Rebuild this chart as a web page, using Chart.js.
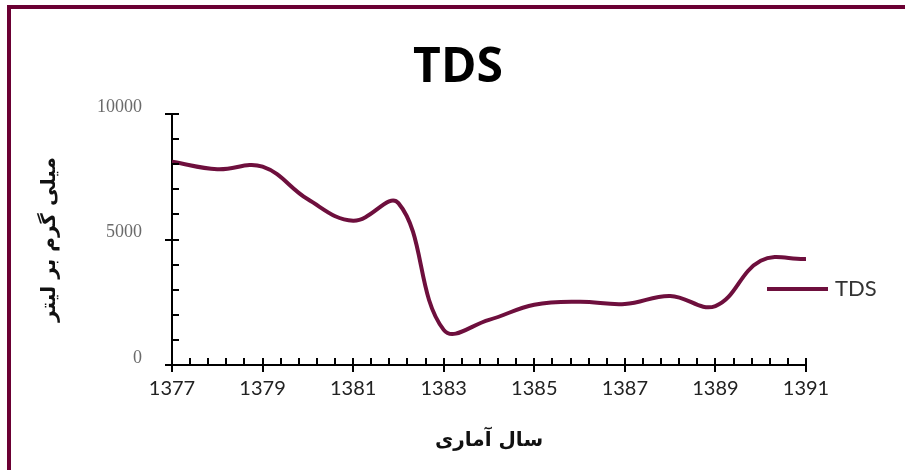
<!DOCTYPE html>
<html>
<head>
<meta charset="utf-8">
<script src="https://cdn.jsdelivr.net/npm/chart.js@4"></script>
<style>
    body { margin: 0; background: #fff; }
    #wrap { position: relative; width: 905px; height: 470px; }
    .borda { position: absolute; background: #6b0033; }
</style>
</head>
<body>
<div id="wrap">
    <canvas id="grafico" width="905" height="470"></canvas>
    <div class="borda" style="left:7px; top:5px; width:898px; height:4px;"></div>
    <div class="borda" style="left:7px; top:5px; width:4px; height:465px;"></div>
</div>
<script>
const anos = [1377, 1378, 1379, 1380, 1381, 1382, 1383, 1384, 1385, 1386, 1387, 1388, 1389, 1390, 1391];
const tds = [8100, 7800, 7900, 6600, 5750, 6450, 1400, 1800, 2400, 2520, 2430, 2750, 2350, 4150, 4220];
const rotulosX = [1377, 1379, 1381, 1383, 1385, 1387, 1389, 1391];
const rotulosY = [0, 5000, 10000];

const corLinha = '#6e0f3d';

// tracinhos dos eixos (maiores cruzam o eixo, menores so para dentro)
const marcasEixos = {
    id: 'marcasEixos',
    afterDraw(chart) {
        const { ctx, chartArea: a, scales: { x, y } } = chart;
        ctx.save();
        ctx.strokeStyle = '#000';
        ctx.lineWidth = 2;
        ctx.beginPath();
        for (let v = 0; v <= 10000; v += 1000) {
            const py = Math.round(y.getPixelForValue(v));
            const maior = v % 5000 === 0;
            ctx.moveTo(a.left - (maior ? 7 : 0), py);
            ctx.lineTo(a.left + 7, py);
        }
        for (let i = 0; i <= 35; i++) {
            const px = Math.round(x.getPixelForValue(1377 + i * 0.4));
            const maior = i % 5 === 0;
            ctx.moveTo(px, a.bottom + (maior ? 7 : 0));
            ctx.lineTo(px, a.bottom - 7);
        }
        ctx.stroke();
        ctx.restore();
    }
};

// titulo fica um pouco mais a direita que o centro do canvas
const moverTitulo = {
    id: 'moverTitulo',
    afterLayout(chart) {
        if (chart.titleBlock) {
            chart.titleBlock.left = 110;
            chart.titleBlock.right = 806;
        }
    }
};

// legenda desenhada a mao, ela fica em cima da area do grafico
const legendaTDS = {
    id: 'legendaTDS',
    afterDraw(chart) {
        const ctx = chart.ctx;
        const ds = chart.data.datasets[0];
        ctx.save();
        ctx.strokeStyle = ds.borderColor;
        ctx.lineWidth = 4;
        ctx.beginPath();
        ctx.moveTo(767, 289);
        ctx.lineTo(828, 289);
        ctx.stroke();
        ctx.fillStyle = '#333';
        ctx.font = '22px Lato';
        ctx.textBaseline = 'middle';
        ctx.fillText(ds.label, 835, 289);
        ctx.restore();
    }
};

const ctx = document.getElementById('grafico').getContext('2d');
new Chart(ctx, {
    type: 'line',
    data: {
        datasets: [{
            label: 'TDS',
            data: anos.map((ano, i) => ({ x: ano, y: tds[i] })),
            borderColor: corLinha,
            backgroundColor: corLinha,
            borderWidth: 4,
            pointRadius: 0,
            tension: 0.4,
            fill: false
        }]
    },
    options: {
        responsive: false,
        animation: false,
        devicePixelRatio: 1,
        layout: {
            padding: { left: 0, right: 99, top: 0, bottom: 0 }
        },
        plugins: {
            legend: { display: false },
            tooltip: { enabled: false },
            title: {
                display: true,
                text: 'TDS',
                color: '#000',
                font: { family: 'Open Sans', size: 48, weight: 'bold' },
                padding: { top: 40, bottom: 16.4 }
            }
        },
        scales: {
            x: {
                type: 'linear',
                min: 1377,
                max: 1391,
                afterBuildTicks: scale => {
                    scale.ticks = rotulosX.map(v => ({ value: v }));
                },
                afterFit: scale => {
                    scale.height = 105;
                },
                grid: { display: false, drawTicks: false },
                border: { display: true, color: '#000', width: 2 },
                ticks: {
                    callback: v => String(v),
                    color: '#222',
                    padding: 12,
                    maxRotation: 0,
                    font: { family: 'Lato', size: 20 }
                },
                title: {
                    display: true,
                    text: 'سال آماری',
                    color: '#111',
                    font: { family: 'DejaVu Sans', size: 20, weight: 'bold' },
                    padding: { top: 0, bottom: 17 }
                }
            },
            y: {
                min: 0,
                max: 10000,
                afterBuildTicks: scale => {
                    scale.ticks = rotulosY.map(v => ({ value: v }));
                },
                afterFit: scale => {
                    scale.width = 172;
                },
                grid: { display: false, drawTicks: false },
                border: { display: true, color: '#000', width: 2 },
                ticks: {
                    callback: v => String(v),
                    color: '#6a6a6a',
                    padding: 30,
                    labelOffset: -7,
                    font: { family: 'Liberation Serif', size: 18 }
                },
                title: {
                    display: true,
                    text: 'میلی گرم بر لیتر',
                    color: '#111',
                    font: { family: 'DejaVu Sans', size: 20, weight: 'bold' },
                    padding: { top: 38, bottom: 0 }
                }
            }
        }
    },
    plugins: [moverTitulo, marcasEixos, legendaTDS]
});
</script>
</body>
</html>
